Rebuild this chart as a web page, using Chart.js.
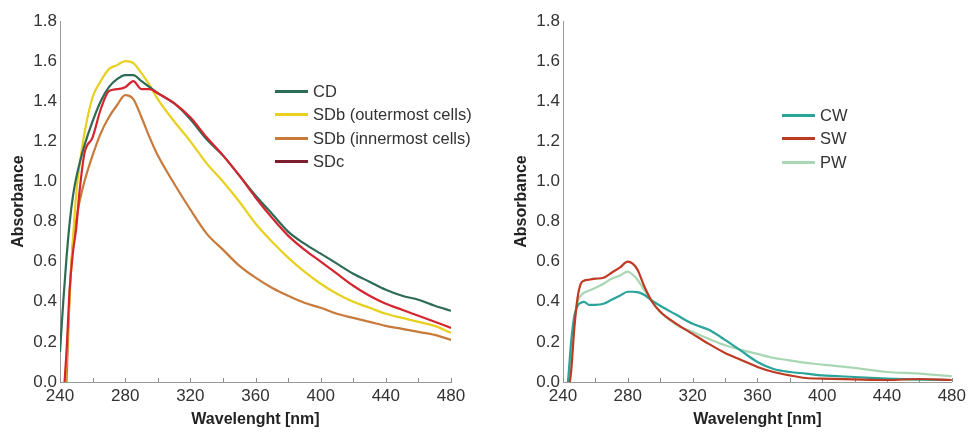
<!DOCTYPE html>
<html>
<head>
<meta charset="utf-8">
<script src="https://cdn.jsdelivr.net/npm/chart.js@4.4.1/dist/chart.umd.min.js"></script>
<style>
html,body{margin:0;padding:0;background:#fff;}
#wrap{position:relative;width:970px;height:432px;overflow:hidden;font-family:"Liberation Sans",Arial,sans-serif;}
.panel{position:absolute;top:0;width:480px;height:432px;}
.legend{position:absolute;font-size:16.5px;color:#333;font-family:"Liberation Sans",Arial,sans-serif;}
.legend .row{height:23.3px;line-height:23.3px;white-space:nowrap;}
.legend .sw{display:inline-block;width:33px;height:3px;vertical-align:middle;margin-right:5px;position:relative;top:-1px;}
</style>
</head>
<body>
<div id="wrap">
  <div class="panel" style="left:0"><canvas id="c1" width="480" height="432"></canvas></div>
  <div class="panel" style="left:490px"><canvas id="c2" width="480" height="432"></canvas></div>
  <div class="legend" id="lg1" style="left:275px;top:80px"></div>
  <div class="legend" id="lg2" style="left:782px;top:104px"></div>
</div>
<script>
// ---------- data ----------
const wavelengthsLeft = [240,242,244,246,248,250,252,255,260,265,270,275,280,285,290,295,300,310,320,330,340,350,360,370,380,390,400,410,420,430,440,450,460,470,480];
const valuesCD       = [0.15,0.40,0.62,0.80,0.93,1.02,1.09,1.18,1.30,1.40,1.47,1.51,1.53,1.53,1.50,1.47,1.44,1.39,1.31,1.21,1.13,1.03,0.93,0.84,0.75,0.69,0.64,0.59,0.54,0.50,0.46,0.43,0.41,0.38,0.355];
const valuesSDbOuter = [-0.45,-0.15,0.12,0.45,0.72,0.94,1.08,1.24,1.42,1.50,1.56,1.58,1.60,1.59,1.54,1.48,1.41,1.30,1.20,1.09,1.00,0.90,0.79,0.70,0.62,0.55,0.49,0.44,0.40,0.37,0.34,0.32,0.30,0.28,0.245];
const valuesSDbInner = [-0.6,-0.3,0.0,0.45,0.70,0.81,0.90,1.00,1.13,1.24,1.32,1.38,1.43,1.41,1.32,1.22,1.13,0.99,0.86,0.74,0.66,0.58,0.52,0.47,0.43,0.395,0.37,0.34,0.32,0.30,0.28,0.265,0.25,0.235,0.21];
const valuesSDc      = [-0.4,-0.1,0.15,0.47,0.65,0.77,0.95,1.14,1.22,1.36,1.45,1.46,1.47,1.50,1.46,1.46,1.44,1.39,1.32,1.22,1.13,1.03,0.92,0.82,0.73,0.66,0.60,0.54,0.48,0.43,0.39,0.36,0.33,0.30,0.27];

const wavelengthsRight = [240,243,245,247,249,251,253,256,260,265,270,275,280,283,286,290,295,300,310,320,330,340,350,360,370,380,390,400,420,440,460,480];
const valuesCW = [-0.1,0.0,0.2,0.33,0.38,0.395,0.40,0.385,0.385,0.39,0.41,0.43,0.45,0.45,0.448,0.435,0.405,0.38,0.335,0.29,0.26,0.21,0.155,0.10,0.065,0.05,0.042,0.033,0.025,0.017,0.012,0.01];
const valuesSW = [-0.15,-0.05,0.05,0.27,0.42,0.49,0.505,0.51,0.515,0.52,0.545,0.57,0.60,0.59,0.56,0.48,0.40,0.35,0.29,0.24,0.19,0.145,0.11,0.075,0.05,0.033,0.02,0.017,0.013,0.01,0.015,0.01];
const valuesPW = [-0.15,-0.05,0.1,0.30,0.40,0.43,0.445,0.455,0.47,0.49,0.515,0.53,0.55,0.535,0.51,0.46,0.40,0.35,0.285,0.25,0.215,0.183,0.16,0.14,0.12,0.108,0.095,0.087,0.07,0.05,0.042,0.028];

const seriesLeftNames  = ['CD','SDb (outermost cells)','SDb (innermost cells)','SDc'];
const seriesRightNames = ['CW','SW','PW'];
const xTickLabels = ['240','280','320','360','400','440','480'];
const yTickLabels = ['0.0','0.2','0.4','0.6','0.8','1.0','1.2','1.4','1.6','1.8'];
const xTitle = 'Wavelenght [nm]';
const yTitle = 'Absorbance';

// ---------- styles ----------
const leftColors   = ['#2e6b55','#e8d01e','#c77a3a','#d5252f'];
const leftLegend   = ['#2e6b55','#e8d01e','#c77a3a','#7d1e2c'];
const leftOrder    = [2,3,4,1];
const rightColors  = ['#2aa49b','#bf3a22','#a9d6b3'];
const rightOrder   = [2,1,3];

const innerTicks = {
  id: 'innerTicks',
  beforeDatasetsDraw(chart) {
    const xs = chart.scales.x, ctx = chart.ctx, y0 = chart.chartArea.bottom;
    ctx.save();
    ctx.strokeStyle = '#8c8c8c'; ctx.lineWidth = 1;
    xs.ticks.forEach(t => {
      const px = Math.round(xs.getPixelForValue(t.value)) + 0.5;
      ctx.beginPath(); ctx.moveTo(px, y0); ctx.lineTo(px, y0 - 4); ctx.stroke();
    });
    ctx.restore();
  }
};

function mkData(wl, vals) { return wl.map((w, i) => ({x: w, y: vals[i]})); }

function makeChart(id, padLeft, padRight, datasets) {
  return new Chart(document.getElementById(id), {
    type: 'line',
    data: { datasets },
    options: {
      responsive: false, animation: false, devicePixelRatio: 1,
      layout: { padding: { left: padLeft, right: padRight, top: 21, bottom: 0 } },
      plugins: { legend: { display: false }, tooltip: { enabled: false } },
      elements: { point: { radius: 0 }, line: { borderWidth: 2.2, cubicInterpolationMode: 'monotone' } },
      scales: {
        x: {
          type: 'linear', min: 240, max: 480,
          afterFit(s) { s.height = 50; },
          grid: { display: false, drawTicks: false },
          border: { display: true, color: '#9a9a9a', width: 1 },
          ticks: {
            stepSize: 20, autoSkip: false, maxRotation: 0, padding: 4,
            color: '#333', font: { family: '"Liberation Sans", Arial, sans-serif', size: 17 },
            callback: (v) => { const s = String(v); return xTickLabels.includes(s) ? s : ''; }
          },
          title: { display: true, text: xTitle, color: '#222', padding: { top: 0, bottom: 3 },
                   font: { family: '"Liberation Sans", Arial, sans-serif', size: 16, weight: 'bold' } }
        },
        y: {
          type: 'linear', min: 0, max: 1.8,
          afterFit(s) { s.width = 60; },
          grid: { display: false, drawTicks: false },
          border: { display: true, color: '#9a9a9a', width: 1 },
          ticks: {
            stepSize: 0.2, padding: 3,
            color: '#333', font: { family: '"Liberation Sans", Arial, sans-serif', size: 17 },
            callback: (v) => { const l = yTickLabels.find(t => Math.abs(Number(t) - v) < 1e-6); return l === undefined ? '' : l; }
          },
          title: { display: true, text: yTitle, color: '#222', padding: { top: 9, bottom: 0 },
                   font: { family: '"Liberation Sans", Arial, sans-serif', size: 16, weight: 'bold' } }
        }
      }
    },
    plugins: [innerTicks]
  });
}

const leftVals = [valuesCD, valuesSDbOuter, valuesSDbInner, valuesSDc];
const leftDatasets = seriesLeftNames.map((n, i) => ({
  label: n, data: mkData(wavelengthsLeft, leftVals[i]), borderColor: leftColors[i],
  backgroundColor: leftColors[i], fill: false, order: leftOrder[i]
}));
const rightVals = [valuesCW, valuesSW, valuesPW];
const rightDatasets = seriesRightNames.map((n, i) => ({
  label: n, data: mkData(wavelengthsRight, rightVals[i]), borderColor: rightColors[i],
  backgroundColor: rightColors[i], fill: false, order: rightOrder[i]
}));

makeChart('c1', 0, 29, leftDatasets);
makeChart('c2', 13, 16, rightDatasets);

function buildLegend(id, names, colors) {
  const el = document.getElementById(id);
  names.forEach((n, i) => {
    const row = document.createElement('div'); row.className = 'row';
    const sw = document.createElement('span'); sw.className = 'sw'; sw.style.background = colors[i];
    row.appendChild(sw); row.appendChild(document.createTextNode(n));
    el.appendChild(row);
  });
}
buildLegend('lg1', seriesLeftNames, leftLegend);
buildLegend('lg2', seriesRightNames, rightColors);
</script>
</body>
</html>
